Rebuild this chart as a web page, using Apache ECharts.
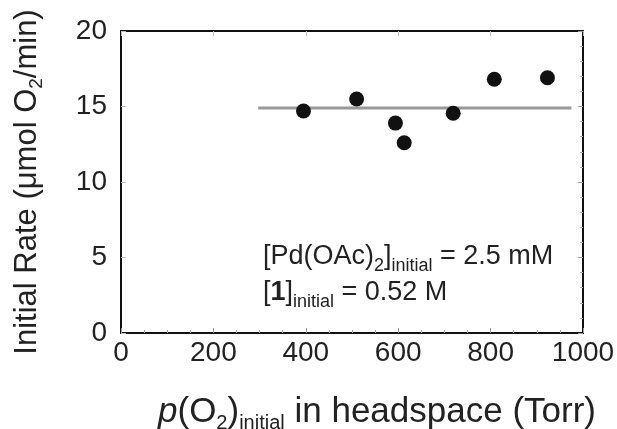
<!DOCTYPE html>
<html>
<head>
<meta charset="utf-8">
<script src="https://cdn.jsdelivr.net/npm/echarts@6/dist/echarts.min.js"></script>
<style>
  html, body { margin: 0; padding: 0; background: #fff; }
  #main { width: 617px; height: 429px; }
</style>
</head>
<body>
<div id="main"></div>
<script>
// measured points
var pressure = [395, 510, 594, 613, 719, 808, 923];
var rate = [14.7, 15.5, 13.9, 12.6, 14.55, 16.8, 16.9];
// average-rate line
var fitX = [297, 975];
var fitY = [14.9, 14.9];
var xTicks = [0, 200, 400, 600, 800, 1000];
var yTicks = [0, 5, 10, 15, 20];

var chart = echarts.init(document.getElementById('main'));
var font = 'Liberation Sans, Arial, sans-serif';
var plain = function (v) { return String(v); };

var option = {
    animation: false,
    grid: { left: 121, right: 34, top: 31, bottom: 96, containLabel: false, outerBoundsMode: 'none' },
    xAxis: [
        {
            type: 'value', min: xTicks[0], max: xTicks[xTicks.length - 1], interval: 200,
            axisLine: { show: true, onZero: false, lineStyle: { color: '#111', width: 2 } },
            axisTick: { inside: true, length: 5, lineStyle: { color: '#999' } },
            minorTick: { show: true, splitNumber: 4, length: 3, lineStyle: { color: '#aaa' } },
            splitLine: { show: false },
            axisLabel: { fontSize: 28, color: '#222', fontFamily: font, margin: 6, formatter: plain },
            name: '{i|p}(O{s|2}){s|initial} in headspace (Torr)',
            nameLocation: 'middle',
            nameGap: 58,
            nameTextStyle: {
                fontSize: 35, color: '#222', fontFamily: font, lineHeight: 42,
                padding: [0, 0, 0, 50],
                rich: {
                    i: { fontSize: 35, fontStyle: 'italic', fontFamily: font, color: '#222', lineHeight: 42 },
                    s: { fontSize: 20, lineHeight: 20, verticalAlign: 'bottom', fontFamily: font, color: '#222' }
                }
            }
        },
        {
            type: 'value', min: xTicks[0], max: xTicks[xTicks.length - 1], interval: 200, position: 'top',
            axisLine: { show: true, onZero: false, lineStyle: { color: '#111', width: 2 } },
            axisTick: { inside: true, length: 5, lineStyle: { color: '#bbb' } },
            axisLabel: { show: false },
            splitLine: { show: false }
        }
    ],
    yAxis: [
        {
            type: 'value', min: yTicks[0], max: yTicks[yTicks.length - 1], interval: 5,
            axisLine: { show: true, onZero: false, lineStyle: { color: '#111', width: 2 } },
            axisTick: { inside: true, length: 5, lineStyle: { color: '#bbb' } },
            splitLine: { show: false },
            axisLabel: { fontSize: 28, color: '#222', fontFamily: font, margin: 14, formatter: plain },
            name: 'Initial Rate (μmol O{s|2}/min)',
            nameLocation: 'middle',
            nameGap: 75,
            nameTextStyle: {
                fontSize: 31, color: '#222', fontFamily: font, lineHeight: 38,
                rich: {
                    s: { fontSize: 19, lineHeight: 19, verticalAlign: 'bottom', fontFamily: font, color: '#222' }
                }
            }
        },
        {
            type: 'value', min: yTicks[0], max: yTicks[yTicks.length - 1], interval: 5, position: 'right',
            axisLine: { show: true, onZero: false, lineStyle: { color: '#111', width: 2 } },
            axisTick: { inside: true, length: 5, lineStyle: { color: '#999' } },
            minorTick: { show: true, splitNumber: 5, length: 3, lineStyle: { color: '#aaa' } },
            axisLabel: { show: false },
            splitLine: { show: false }
        }
    ],
    graphic: [
        {
            type: 'text',
            left: 263,
            top: 239,
            style: {
                text: '[Pd(OAc){s|2}]{s|initial} = 2.5 mM\n[{b|1}]{s|initial} = 0.52 M',
                fontSize: 27,
                lineHeight: 36,
                fontFamily: font,
                fill: '#222',
                rich: {
                    s: { fontSize: 18, lineHeight: 18, verticalAlign: 'bottom', fontFamily: font, color: '#222' },
                    b: { fontSize: 27, fontWeight: 'bold', fontFamily: font, color: '#222', lineHeight: 36 }
                }
            }
        }
    ],
    series: [
        {
            type: 'line',
            data: fitX.map(function (x, i) { return [x, fitY[i]]; }),
            showSymbol: false,
            lineStyle: { color: '#999', width: 3 },
            z: 1
        },
        {
            type: 'scatter',
            data: pressure.map(function (x, i) { return [x, rate[i]]; }),
            symbolSize: 15,
            itemStyle: { color: '#111', opacity: 1 },
            z: 3
        }
    ]
};
chart.setOption(option);
</script>
</body>
</html>
